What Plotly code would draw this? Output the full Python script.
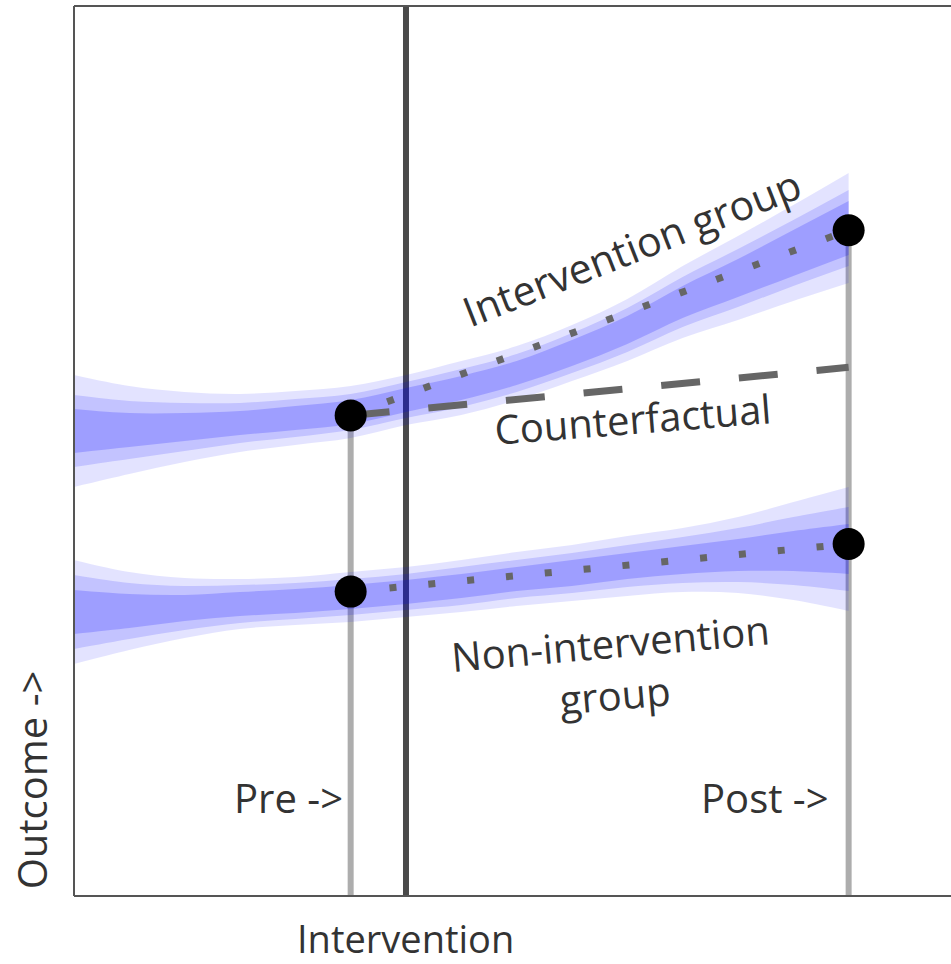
import plotly.graph_objects as go

# ---------------- data ----------------
band_x = list(range(15))

int_center = [5.225, 5.236, 5.270, 5.315, 5.371, 5.438, 5.573, 5.708, 5.876, 6.101,
              6.360, 6.674, 6.944, 7.225, 7.506]
int_dark = [.247, .191, .157, .135, .135, .135, .135, .135, .135, .146, .157, .180, .213, .258, .303]
int_mid = [.404, .326, .270, .225, .213, .202, .202, .213, .213, .225, .247, .281, .326, .371, .427]
int_light = [.629, .494, .393, .326, .303, .292, .281, .303, .303, .315, .348, .404, .472, .539, .618]

non_center = [3.191, 3.202, 3.236, 3.281, 3.315, 3.360, 3.416, 3.483, 3.562, 3.629,
              3.708, 3.775, 3.831, 3.876, 3.899]
non_dark = [.247, .191, .146, .135, .135, .135, .135, .135, .135, .146, .146, .157, .180, .225, .281]
non_mid = [.416, .315, .247, .213, .202, .202, .202, .213, .213, .225, .236, .258, .303, .382, .472]
non_light = [.584, .438, .337, .281, .270, .281, .281, .292, .303, .315, .337, .360, .427, .551, .697]

pre_x, post_x, intervention_x = 5, 14, 6
int_points = [5.40, 7.48]
non_points = [3.42, 3.955]
counterfactual = [5.40, 5.94]

x_range = [0, 15.85]
y_range = [0, 10]

# ---------------- figure ----------------
fig = go.Figure()

# vertical reference lines (beneath bands)
fig.add_trace(go.Scatter(x=[intervention_x, intervention_x], y=y_range, mode="lines",
                         line=dict(color="#4a4a4a", width=6), hoverinfo="skip"))
fig.add_trace(go.Scatter(x=[pre_x, pre_x], y=[0, int_points[0]], mode="lines",
                         line=dict(color="#adadad", width=6), hoverinfo="skip"))
fig.add_trace(go.Scatter(x=[post_x, post_x], y=[0, int_points[1]], mode="lines",
                         line=dict(color="#adadad", width=6), hoverinfo="skip"))

layers = [("light", 0.11), ("mid", 0.14), ("dark", 0.19)]


def add_band(center, widths):
    for (name, alpha), w in zip(layers, widths):
        lo = [c - h for c, h in zip(center, w)]
        hi = [c + h for c, h in zip(center, w)]
        fig.add_trace(go.Scatter(x=band_x, y=lo, mode="lines", line=dict(width=0, shape="spline"),
                                 hoverinfo="skip"))
        fig.add_trace(go.Scatter(x=band_x, y=hi, mode="lines", line=dict(width=0, shape="spline"),
                                 fill="tonexty", fillcolor=f"rgba(0,0,255,{alpha})",
                                 hoverinfo="skip"))


add_band(int_center, [int_light, int_mid, int_dark])
add_band(non_center, [non_light, non_mid, non_dark])

# trend lines
fig.add_trace(go.Scatter(x=[pre_x, post_x], y=int_points, mode="lines",
                         line=dict(color="#666666", width=7, dash="7px,32px")))
fig.add_trace(go.Scatter(x=[pre_x, post_x], y=non_points, mode="lines",
                         line=dict(color="#666666", width=7, dash="7px,32px")))
fig.add_trace(go.Scatter(x=[pre_x, post_x], y=counterfactual, mode="lines",
                         line=dict(color="#666666", width=7, dash="39px,39px")))

# points
fig.add_trace(go.Scatter(x=[pre_x, post_x, pre_x, post_x],
                         y=[int_points[0], int_points[1], non_points[0], non_points[1]],
                         mode="markers", marker=dict(color="black", size=32)))

font = dict(family="Open Sans", size=40, color="#333333")
ann = [
    dict(x=10.08, y=7.29, text="Intervention group", textangle=-21.5,
         font=dict(family="Open Sans", size=41, color="#333333")),
    dict(x=10.1, y=5.37, text="Counterfactual", textangle=-4.5),
    dict(x=9.74, y=2.56, text="Non-intervention<br>group", textangle=-5),
    dict(x=4.9, y=1.11, text="Pre ->", xanchor="right"),
    dict(x=13.68, y=1.11, text="Post ->", xanchor="right"),
    dict(x=intervention_x, y=-0.047, yref="paper", text="Intervention",
         font=dict(family="Open Sans", size=38, color="#333333")),
    dict(x=-0.048, xref="paper", y=0.131, yref="paper", text="Outcome ->", textangle=-90),
]
for a in ann:
    a.setdefault("xref", "x")
    a.setdefault("yref", "y")
    a.setdefault("xanchor", "center")
    a.setdefault("font", font)
    a.update(showarrow=False, yanchor="middle")
fig.update_layout(annotations=ann)

# frame (left, top, bottom)
frame = dict(color="#555555", width=2)
fig.update_layout(shapes=[
    dict(type="line", xref="paper", yref="paper", x0=0, x1=0, y0=0, y1=1, line=frame),
    dict(type="line", xref="paper", yref="paper", x0=0, x1=1, y0=1, y1=1, line=frame),
    dict(type="line", xref="paper", yref="paper", x0=0, x1=1, y0=0, y1=0, line=frame),
])

fig.update_layout(
    width=951, height=964,
    margin=dict(l=74, r=0, t=6, b=68),
    plot_bgcolor="white", paper_bgcolor="white",
    showlegend=False,
    xaxis=dict(range=x_range, showgrid=False, zeroline=False, showticklabels=False,
               ticks="", showline=False, fixedrange=True),
    yaxis=dict(range=y_range, showgrid=False, zeroline=False, showticklabels=False,
               ticks="", showline=False, fixedrange=True),
)

fig.write_html("out.html", config={"displayModeBar": False},
               post_script="document.body.style.margin='0px';")
